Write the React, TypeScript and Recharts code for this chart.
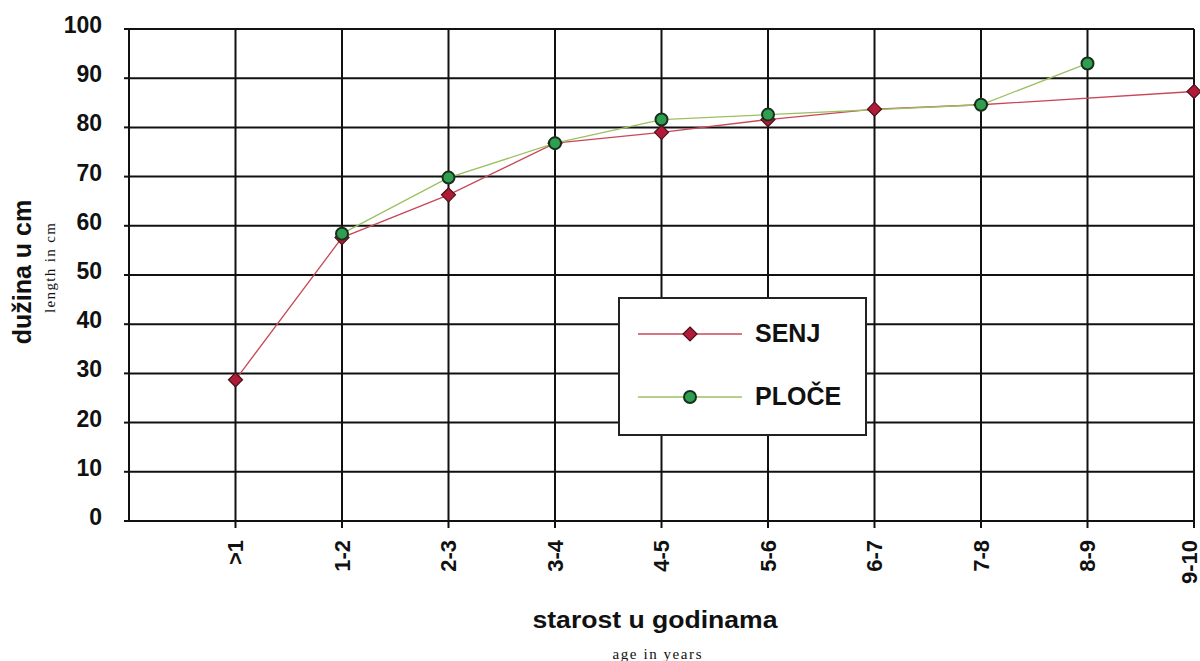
import { CartesianGrid, Label, Legend, Line, LineChart, XAxis, YAxis } from "recharts";

const ageGroups = [">1", "1-2", "2-3", "3-4", "4-5", "5-6", "6-7", "7-8", "8-9", "9-10"];
const senjValues = [28.7, 57.6, 66.3, 76.8, 79.0, 81.6, 83.7, 84.6, null, 87.3];
const plocValues = [null, 58.4, 69.8, 76.8, 81.6, 82.6, null, 84.6, 93.0, null];
const yTicks = [0, 10, 20, 30, 40, 50, 60, 70, 80, 90, 100];
const xTicks = ageGroups.map((_, i) => i + 1);

const data = ageGroups.map((g, i) => ({
    pos: i + 1,
    age: g,
    senj: senjValues[i],
    ploce: plocValues[i],
}));

const SENJ_LINE = "#c8485a";
const SENJ_FILL = "#b01c38";
const PLOCE_LINE = "#9cc060";
const PLOCE_FILL = "#2f9e50";
const FONT = "'Liberation Sans', Arial, sans-serif";
const SERIF = "'Liberation Serif', 'Times New Roman', serif";

function Diamond(props: any) {
    const { cx, cy, key } = props;
    if (cx == null || cy == null || props.value == null) return <g key={key} />;
    const r = 7;
    return (
        <polygon
            key={key}
            points={`${cx},${cy - r} ${cx + r},${cy} ${cx},${cy + r} ${cx - r},${cy}`}
            fill={SENJ_FILL}
            stroke="#4a1018"
            strokeWidth={1.2}
        />
    );
}

function Circle(props: any) {
    const { cx, cy, key } = props;
    if (cx == null || cy == null || props.value == null) return <g key={key} />;
    return <circle key={key} cx={cx} cy={cy} r={6} fill={PLOCE_FILL} stroke="#16301c" strokeWidth={2} />;
}

function YTick(props: any) {
    const { y, payload } = props;
    return (
        <text x={102} y={y - 4} textAnchor="end" dominantBaseline="central"
            fontFamily={FONT} fontWeight="bold" fontSize={23} fill="#111">
            {payload.value}
        </text>
    );
}

function XTick(props: any) {
    const { x, payload } = props;
    // keep the last label inside the picture
    const tx = Math.min(x, 1189);
    return (
        <text transform={`translate(${tx},540) rotate(-90)`} textAnchor="end" dominantBaseline="central"
            fontFamily={FONT} fontWeight="bold" fontSize={22} fill="#111">
            {ageGroups[payload.value - 1]}
        </text>
    );
}

function LegendBox() {
    const row = (label: string, color: string, marker: any) => (
        <div style={{ display: "flex", alignItems: "center", height: 63 }}>
            <svg width={104} height={20} style={{ marginLeft: 18 }}>
                <line x1={0} y1={10} x2={104} y2={10} stroke={color} strokeWidth={1.3} />
                {marker}
            </svg>
            <span style={{ fontFamily: FONT, fontWeight: "bold", fontSize: 25, color: "#111", marginLeft: 13 }}>
                {label}
            </span>
        </div>
    );
    return (
        <div style={{
            width: 249, height: 139, boxSizing: "border-box", border: "2px solid #222",
            background: "#fff", paddingTop: 3,
        }}>
            {row("SENJ", SENJ_LINE, <polygon points="52,3 59,10 52,17 45,10" fill={SENJ_FILL} stroke="#4a1018" strokeWidth={1.2} />)}
            {row("PLOČE", PLOCE_LINE, <circle cx={52} cy={10} r={6} fill={PLOCE_FILL} stroke="#16301c" strokeWidth={2} />)}
        </div>
    );
}

export default function App() {
    return (
        <div style={{ position: "absolute", left: 0, top: 0, width: 1200, height: 661, background: "#fff" }}>
            <LineChart width={1200} height={661} data={data}
                margin={{ top: 29, right: 6, bottom: 0, left: 0 }}>
                <CartesianGrid stroke="#111" strokeWidth={2} />
                <XAxis dataKey="pos" type="number" domain={[0, 10]} ticks={xTicks} interval={0}
                    height={140} tick={<XTick />} tickSize={7}
                    axisLine={{ stroke: "#111", strokeWidth: 2 }} tickLine={{ stroke: "#111", strokeWidth: 2 }}>
                    <Label content={() => (
                        <g>
                            <text x={655} y={628} textAnchor="middle" fontFamily={FONT} fontWeight="bold"
                                fontSize={23} textLength={245} lengthAdjust="spacingAndGlyphs" fill="#111">
                                starost u godinama
                            </text>
                            <text x={657} y={659} textAnchor="middle" fontFamily={SERIF}
                                fontSize={15} textLength={89} lengthAdjust="spacing" fill="#111">
                                age in years
                            </text>
                        </g>
                    )} />
                </XAxis>
                <YAxis type="number" domain={[0, 100]} ticks={yTicks} interval={0} width={129}
                    tick={<YTick />} tickSize={5}
                    axisLine={{ stroke: "#111", strokeWidth: 2 }} tickLine={{ stroke: "#111", strokeWidth: 2 }}>
                    <Label content={() => (
                        <g>
                            <text transform="translate(31,272) rotate(-90)" textAnchor="middle" fontFamily={FONT}
                                fontWeight="bold" fontSize={25} fill="#111">
                                dužina u cm
                            </text>
                            <text transform="translate(55,268) rotate(-90)" textAnchor="middle"
                                fontFamily={SERIF} fontSize={15} textLength={90} lengthAdjust="spacing" fill="#111">
                                length in cm
                            </text>
                        </g>
                    )} />
                </YAxis>
                <Legend layout="vertical" align="center" verticalAlign="middle" content={() => <LegendBox />}
                    wrapperStyle={{ position: "absolute", left: 618, top: 297, width: 249, height: 139 }} />
                <Line type="linear" dataKey="senj" name="SENJ" stroke={SENJ_LINE} strokeWidth={1.3}
                    connectNulls dot={<Diamond />} activeDot={false} isAnimationActive={false} />
                <Line type="linear" dataKey="ploce" name="PLOČE" stroke={PLOCE_LINE} strokeWidth={1.3}
                    connectNulls dot={<Circle />} activeDot={false} isAnimationActive={false} />
            </LineChart>
        </div>
    );
}
